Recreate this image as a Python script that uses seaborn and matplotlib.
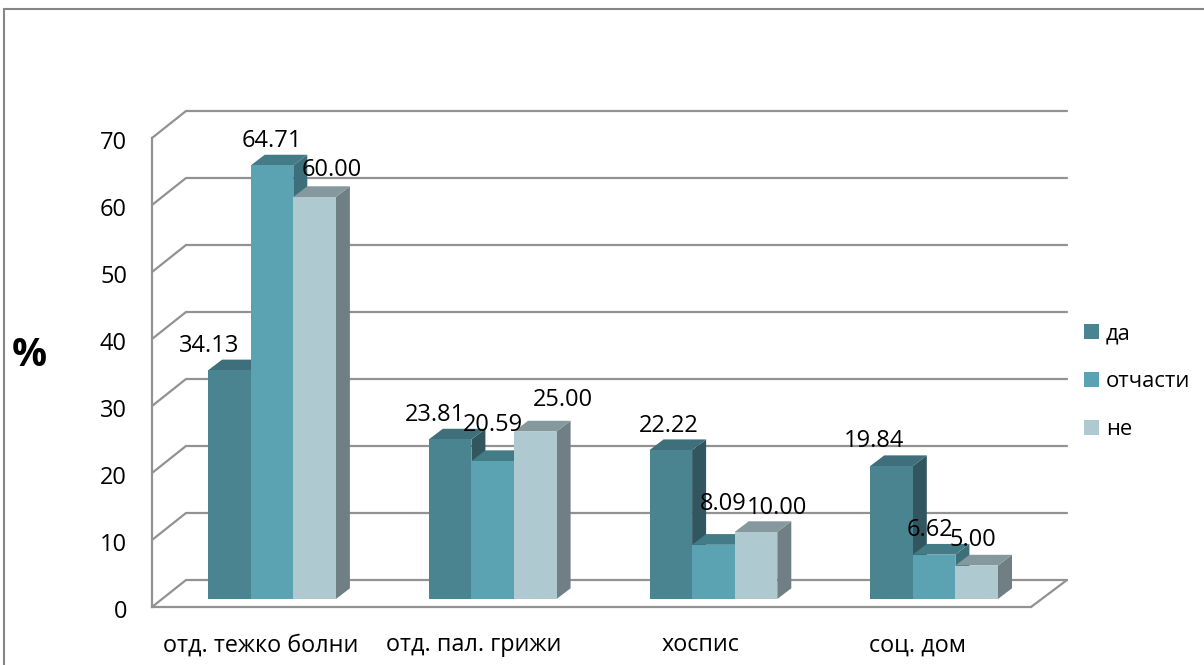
import matplotlib
matplotlib.use("Agg")
import matplotlib.pyplot as plt
import matplotlib.transforms as mtrans
from matplotlib.lines import Line2D
from matplotlib.patches import Polygon, Patch
import pandas as pd
import seaborn as sns

categories = ["отд. тежко болни", "отд. пал. грижи", "хоспис", "соц. дом"]
series_names = ["да", "отчасти", "не"]
values_da = [34.13, 23.81, 22.22, 19.84]
values_otchasti = [64.71, 20.59, 8.09, 6.62]
values_ne = [60.00, 25.00, 10.00, 5.00]
y_ticks = [0, 10, 20, 30, 40, 50, 60, 70]

# Colours per series: front, top and side faces of the extruded bars
front_colors = ["#4A8491", "#5BA3B2", "#AFC9D1"]
top_colors = ["#3F6F7A", "#437B87", "#84989E"]
side_colors = ["#31565F", "#3D6F7A", "#6F7F83"]

# Label nudges in pixels relative to the bar's top centre
label_dx = [[-20, -15, -2, -18], [0, 0, 10, -4], [17, 28, 21, -4]]
label_dy = [[24, 24, 24, 25], [24, 36, 41, 25], [27, 31, 24, 25]]
category_label_dx = [-11, -19, -13, -17]

W, H = 1204, 665
PX_PER_UNIT = 6.7
BASE_PY = 599
CAT_SPACING = 220.7
CAT0_PX = 272
DEPTH_X, DEPTH_Y = 14, 10.7
NUM_SIZE = 17

sns.set_style("white")
plt.rcParams["font.family"] = ["Open Sans", "DejaVu Sans"]
plt.rcParams["text.color"] = "black"

frame = pd.DataFrame({
    "category": categories * 3,
    "series": [s for s in series_names for _ in categories],
    "value": values_da + values_otchasti + values_ne,
})

fig = plt.figure(figsize=(W / 100, H / 100), dpi=100, facecolor="white")
left, right, bottom, top = 152, 1031, 607, 111
ax = fig.add_axes([left / W, 1 - bottom / H, (right - left) / W, (bottom - top) / H])
ax.patch.set_visible(False)

sns.barplot(data=frame, x="category", y="value", hue="series", order=categories,
            hue_order=series_names, palette=front_colors, saturation=1, width=0.579,
            gap=0, linewidth=0, ax=ax, legend=False)


def dx(px):
    return px / CAT_SPACING


def xval(px):
    return (px - CAT0_PX) / CAT_SPACING


def yval(py):
    return (BASE_PY - py) / PX_PER_UNIT


ax.set_xlim(xval(left), xval(right))
ax.set_ylim(yval(bottom), yval(top))
ax.set_xlabel("")
ax.set_ylabel("")

# Back wall and side wall gridlines
GRID = "#929292"
GRID_LW = 1.6
BACK_LEFT, BACK_RIGHT, BACK_ZERO = 186, 1067, 580
for v in y_ticks:
    front_py = bottom - v * PX_PER_UNIT
    back_py = BACK_ZERO - v * PX_PER_UNIT
    ax.plot([xval(left), xval(BACK_LEFT), xval(BACK_RIGHT)],
            [yval(front_py), yval(back_py), yval(back_py)],
            color=GRID, lw=GRID_LW, clip_on=False, zorder=1, solid_joinstyle="miter")
ax.plot([xval(right), xval(BACK_RIGHT)], [yval(bottom), yval(BACK_ZERO)],
        color=GRID, lw=GRID_LW, clip_on=False, zorder=1)

# Extrude each bar: side and top faces sit behind the front of the next bar
for s, container in enumerate(ax.containers):
    for c, bar in enumerate(container):
        x0, w, h = bar.get_x(), bar.get_width(), bar.get_height()
        x1 = x0 + w
        ddx, ddy = dx(DEPTH_X), DEPTH_Y / PX_PER_UNIT
        z = 3 + c * 4 + s
        ax.add_patch(Polygon([(x1, 0), (x1 + ddx, ddy), (x1 + ddx, h + ddy), (x1, h)],
                             closed=True, fc=side_colors[s], ec="none", zorder=z, clip_on=False))
        ax.add_patch(Polygon([(x0, h), (x0 + ddx, h + ddy), (x1 + ddx, h + ddy), (x1, h)],
                             closed=True, fc=top_colors[s], ec="none", zorder=z, clip_on=False))
        bar.set_zorder(z + 0.5)
        ax.annotate(f"{h:.2f}", (x0 + w / 2, h),
                    xytext=(label_dx[s][c], label_dy[s][c]), textcoords="offset pixels",
                    ha="center", va="center", fontsize=NUM_SIZE, color="black",
                    zorder=40, annotation_clip=False)

# Axes frame and tick labels
for name in ("top", "right"):
    ax.spines[name].set_visible(False)
for name in ("left", "bottom"):
    ax.spines[name].set_color(GRID)
    ax.spines[name].set_linewidth(GRID_LW)
ax.spines["left"].set_bounds(yval(bottom), yval(bottom - 70 * PX_PER_UNIT))

ax.set_yticks(y_ticks)
ax.set_xticks(range(len(categories)))
ax.set_xticklabels(categories)
ax.tick_params(axis="y", length=0, pad=18, labelsize=NUM_SIZE, labelcolor="black")
ax.tick_params(axis="x", length=0, pad=19, labelsize=16.8, labelcolor="black")
down = mtrans.ScaledTranslation(0, -10 / 100, fig.dpi_scale_trans)
for lab in ax.get_yticklabels():
    lab.set_transform(lab.get_transform() + down)
for lab, shift in zip(ax.get_xticklabels(), category_label_dx):
    lab.set_transform(lab.get_transform()
                      + mtrans.ScaledTranslation(shift / 100, 0, fig.dpi_scale_trans))

# Legend with plain square swatches
handles = [Patch(fc=col, ec="none") for col in front_colors]
fig.legend(handles, series_names, loc="upper left",
           bbox_to_anchor=(1084 / W, 1 - 323 / H), frameon=False, fontsize=15.8,
           labelcolor="black", handlelength=0.68, handleheight=0.68, handletextpad=0.32,
           labelspacing=1.24, borderpad=0, borderaxespad=0)

# Value-axis unit
fig.text(29 / W, 1 - 355 / H, "%", fontsize=28, fontweight="bold", ha="center", va="center",
         color="black")

# Outer chart border
BORDER = "#868686"
fig.add_artist(Line2D([4 / W, 4 / W, 1.0], [0, 1 - 9 / H, 1 - 9 / H],
                      transform=fig.transFigure, color=BORDER, lw=1.5,
                      solid_joinstyle="miter"))

fig.savefig("out.png", dpi=100, facecolor="white")
